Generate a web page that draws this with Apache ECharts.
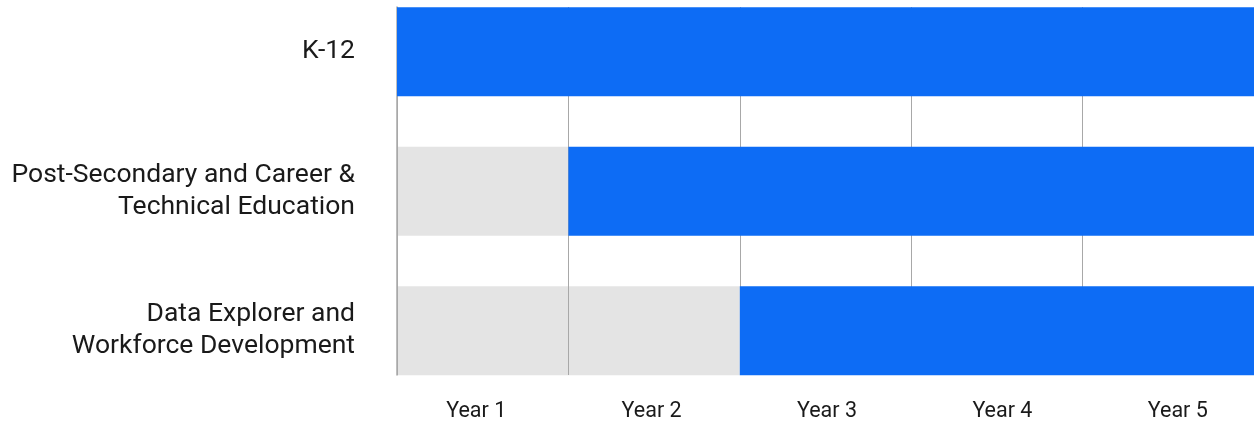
<!DOCTYPE html>
<html>
<head>
<meta charset="utf-8">
<script src="https://cdn.jsdelivr.net/npm/echarts@6/dist/echarts.min.js"></script>
<style>
  html, body { margin: 0; padding: 0; background: #ffffff; overflow: hidden; }
  #chart { width: 1270px; height: 441px; margin-top: -18px; }
</style>
</head>
<body>
<div id="chart"></div>
<script>
// Data
var categories = ['K-12', 'Post-Secondary and Career &\nTechnical Education', 'Data Explorer and\nWorkforce Development'];
var years = ['Year 1', 'Year 2', 'Year 3', 'Year 4', 'Year 5'];
var startYear = [0, 1, 2];   // years before the program begins (grey)
var endYear = [5, 5, 5];     // program runs through end of Year 5 (blue)

var greyValues = startYear.slice();
var blueValues = endYear.map(function (e, i) { return e - startYear[i]; });

var chart = echarts.init(document.getElementById('chart'), null, { renderer: 'canvas' });
chart.setOption({
  backgroundColor: '#ffffff',
  animation: false,
  textStyle: { fontFamily: 'Roboto' },
  grid: [
    { left: 397, right: 16, top: 0, height: 418.5 },
    { left: 397, right: 16, top: 25, height: 368 },
    { left: 388.5, width: 877, top: 25, height: 368 }
  ],
  xAxis: [
    { gridIndex: 0, type: 'value', min: 0, max: years.length, show: false },
    {
      gridIndex: 1, type: 'category', data: years, boundaryGap: true, z: 3,
      axisLine: { show: false }, axisTick: { show: false },
      axisLabel: { show: false },
      splitLine: { show: true, lineStyle: { color: '#a8a8a8', width: 1 } }
    },
    {
      gridIndex: 2, type: 'category', data: years, boundaryGap: true,
      axisLine: { show: false }, axisTick: { show: false },
      axisLabel: { color: '#1a1a1a', fontSize: 21.5, fontFamily: 'Roboto', margin: 28 },
      splitLine: { show: false }
    }
  ],
  yAxis: [
    {
      gridIndex: 0, type: 'category', data: categories, inverse: true,
      axisLine: { show: false }, axisTick: { show: false },
      axisLabel: { color: '#1a1a1a', fontSize: 26.5, fontFamily: 'Roboto', margin: 42, lineHeight: 32, align: 'right' },
      splitLine: { show: false }
    },
    {
      gridIndex: 1, type: 'value', min: 0, max: 1, z: 3,
      axisLine: { show: true, onZero: false, lineStyle: { color: '#a8a8a8', width: 1.5 } },
      axisTick: { show: false }, axisLabel: { show: false }, splitLine: { show: false }
    },
    {
      gridIndex: 2, type: 'value', min: 0, max: 1, show: false
    }
  ],
  series: [
    {
      type: 'bar', name: 'Before', xAxisIndex: 0, yAxisIndex: 0, stack: 't', z: 1,
      barWidth: 89, data: greyValues,
      itemStyle: { color: '#e4e4e4' }
    },
    {
      type: 'bar', name: 'Active', xAxisIndex: 0, yAxisIndex: 0, stack: 't', z: 5,
      barWidth: 89, data: blueValues,
      itemStyle: { color: '#0d6cf5' }
    }
  ]
});
</script>
</body>
</html>
